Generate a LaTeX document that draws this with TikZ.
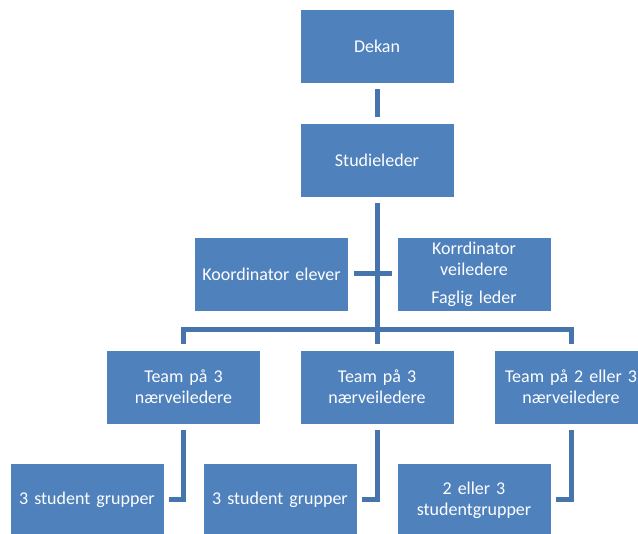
\documentclass[tikz,border=0pt]{standalone}
\usepackage{fontspec}
\setmainfont{Carlito}
\definecolor{boxblue}{HTML}{4F81BD}
\definecolor{lineblue}{HTML}{4674AD}

\begin{document}
\begin{tikzpicture}[x=1pt,y=-1pt,
  orgbox/.style={draw=white,line width=0.8pt,fill=boxblue,text=white,
    minimum width=154pt,minimum height=74pt,inner sep=2pt,
    text width=148pt,align=center,font=\fontsize{18}{21}\selectfont},
  conn/.style={draw=lineblue,line width=5pt,line join=miter},
  gap/.style={shorten <=6pt,shorten >=6pt}]

\clip (0,0) rectangle (638,534);

%top
\node[orgbox] (dekan) at (377,46) {Dekan};
\node[orgbox] (studieleder) at (377,160) {Studieleder};

%assistenter
\node[orgbox] (koord) at (271.5,274) {Koordinator elever};
\node[orgbox] (korr) at (474,274) {Korrdinator\\veiledere\\[7pt]Faglig leder};

%team
\node[orgbox] (team1) at (183.5,387) {Team på 3\\nærveiledere};
\node[orgbox] (team2) at (377,387) {Team på 3\\nærveiledere};
\node[orgbox] (team3) at (571,387) {Team på 2 eller 3\\nærveiledere};

%grupper
\node[orgbox] (grp1) at (87,500) {3 student grupper};
\node[orgbox] (grp2) at (280,500) {3 student grupper};
\node[orgbox] (grp3) at (474,500) {2 eller 3\\studentgrupper};

\coordinate (bar) at (377,330);

\path[conn,gap] (dekan) -- (studieleder);
\path[conn,gap] (studieleder) -- (team2);
\path[conn,shorten <=5pt,shorten >=5pt] (koord) -- (korr);
\path[conn,gap] (team1.north) |- (bar) -| (team3.north);

\path[conn,shorten <=6pt,shorten >=5pt] (team1.south) |- (grp1.east);
\path[conn,shorten <=6pt,shorten >=5pt] (team2.south) |- (grp2.east);
\path[conn,shorten <=6pt,shorten >=5pt] (team3.south) |- (grp3.east);

\end{tikzpicture}
\end{document}
